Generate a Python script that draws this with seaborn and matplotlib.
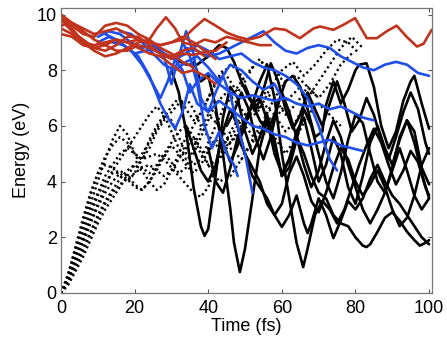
import matplotlib
matplotlib.use("Agg")
import matplotlib.pyplot as plt
import seaborn as sns

# ---------------- data ----------------
# red (upper state) trajectories: (times, energies)
red_t1 = [0, 3, 6, 9, 12, 15, 18, 21, 24, 27, 30, 33, 36, 39, 42, 45, 48, 51, 54, 58, 61, 64.9, 68.6, 70.4, 74, 76.7, 79.9, 83.1, 85.8, 88.5, 91.2, 93.9, 96.7, 98.5, 100.7]
red_e1 = [9.5, 9.3, 9.0, 8.9, 9.0, 9.1, 9.0, 9.1, 9.0, 8.9, 9.0, 9.1, 9.5, 9.84, 9.6, 9.35, 9.2, 9.1, 9.2, 9.5, 9.45, 9.15, 9.5, 9.57, 9.45, 9.63, 9.87, 9.15, 9.15, 9.4, 9.6, 9.2, 8.85, 8.95, 9.45]
red_t2 = [0, 3, 6, 9, 12, 15, 18, 21, 24, 26, 28.5, 31, 33, 36, 39, 42, 45, 48, 51, 54, 57]
red_e2 = [10.0, 9.6, 9.3, 9.2, 9.6, 9.7, 9.6, 9.3, 9.1, 9.5, 9.9, 9.5, 9.0, 8.9, 9.1, 9.0, 9.2, 9.1, 9.0, 8.9, 8.9]
red_t3 = [0, 3, 6, 9, 12, 15, 18, 21, 24, 27, 30, 33, 36, 39, 42]
red_e3 = [9.8, 9.4, 9.1, 8.8, 8.9, 9.1, 9.0, 8.8, 8.6, 8.5, 8.2, 7.9, 8.0, 7.8, 7.5]
red_t4 = [0, 3, 6, 9, 12, 15, 18, 21, 24, 27, 30, 33, 36, 39, 42, 45]
red_e4 = [9.3, 9.2, 8.9, 8.8, 8.7, 8.9, 9.2, 9.2, 8.9, 8.6, 8.4, 8.6, 8.55, 8.65, 8.7, 9.0]
red_t5 = [0, 3, 6, 9, 12, 15, 18, 21, 24, 27, 30, 33, 36, 39]
red_e5 = [10.0, 9.7, 9.4, 9.1, 8.9, 8.7, 8.7, 8.9, 8.8, 8.6, 8.5, 8.7, 8.8, 8.5]
red_t6 = [0, 3, 6, 9, 12, 15, 18, 21, 24, 27, 30, 33, 36, 39, 42]
red_e6 = [9.6, 9.7, 9.5, 9.3, 9.4, 9.5, 9.3, 9.1, 9.0, 8.9, 9.0, 9.2, 9.0, 8.7, 8.4]
red_t7 = [0, 3, 6, 9, 12, 15, 18, 21, 24, 27, 30, 33, 36]
red_e7 = [9.9, 9.5, 9.0, 8.7, 8.5, 8.6, 8.8, 9.0, 9.1, 8.8, 8.6, 8.3, 8.1]

# blue (middle state) trajectories
blue_t1 = [10, 13, 16, 19, 22, 25, 28, 31, 34, 37, 40, 43, 46, 49, 52, 55, 58, 61, 64, 67, 70, 73, 76, 79, 82, 85, 88, 91, 94, 97, 100]
blue_e1 = [9.2, 9.4, 9.3, 9.0, 8.8, 8.9, 8.6, 8.4, 8.8, 8.7, 8.5, 8.6, 8.8, 9.0, 9.2, 9.4, 9.0, 8.7, 8.6, 8.8, 8.9, 8.8, 8.5, 8.3, 8.1, 8.0, 8.2, 8.3, 8.2, 7.9, 7.8]
blue_t2 = [10, 13, 16, 19, 22, 25, 27, 29, 31, 33, 35, 37, 40, 43, 46, 49, 52, 55, 58, 61, 64, 67, 70, 73, 76, 79, 82, 85]
blue_e2 = [9.0, 9.2, 9.0, 8.7, 8.2, 7.5, 7.0, 7.6, 8.4, 8.0, 7.2, 7.6, 7.9, 7.5, 7.2, 7.0, 7.1, 7.0, 6.9, 7.0, 6.8, 6.7, 6.8, 6.6, 6.7, 6.5, 6.3, 6.2]
blue_t3 = [12, 15, 18, 21, 24, 27, 29, 31, 33, 35, 37, 40, 43, 46, 49, 52, 55, 58, 61, 64, 67, 70, 73, 76, 79, 82]
blue_e3 = [9.3, 9.1, 8.8, 8.5, 7.8, 6.8, 6.3, 5.9, 6.5, 7.5, 6.8, 6.5, 6.9, 6.6, 6.3, 6.0, 5.9, 5.7, 5.6, 5.4, 5.3, 5.4, 5.5, 5.3, 5.2, 5.1]
blue_t4 = [14, 17, 20, 23, 26, 28, 30, 32, 34, 36, 38, 40, 42, 44, 46, 48, 50, 52]
blue_e4 = [9.0, 8.9, 8.6, 8.7, 8.8, 8.5, 7.5, 8.5, 9.4, 8.6, 7.0, 6.5, 7.2, 7.8, 7.1, 6.0, 5.0, 3.6]
blue_t5 = [16, 19, 22, 25, 28, 31, 34, 37, 40, 43, 46, 49, 52, 55, 58, 60]
blue_e5 = [9.4, 9.3, 9.0, 8.6, 8.2, 8.0, 8.3, 8.5, 8.1, 7.6, 8.2, 8.0, 7.6, 7.3, 7.5, 7.0]
blue_t6 = [25, 28, 31, 34, 37, 40, 43, 46, 49, 52, 55, 58, 61, 64, 67, 70, 73, 75]
blue_e6 = [8.9, 8.6, 8.4, 8.6, 8.9, 8.7, 8.4, 8.5, 8.6, 8.3, 8.1, 8.0, 7.8, 7.5, 7.0, 6.0, 4.8, 4.4]
blue_t7 = [33, 35, 37, 39, 41, 43, 45, 47, 48]
blue_e7 = [9.0, 8.5, 7.5, 6.0, 5.2, 5.8, 5.0, 4.6, 4.2]

# black solid (lowest state after hop) trajectories
blk_t1 = [31, 34, 37, 40, 43, 45, 47, 49, 51, 53, 55, 57, 59, 61, 63, 65, 67, 69, 71, 73, 75, 77, 79, 81, 83, 85, 87, 89, 91, 93, 95, 97, 99, 100]
blk_e1 = [8.4, 8.2, 8.2, 8.5, 8.9, 8.8, 8.3, 7.6, 7.0, 6.6, 7.3, 8.25, 7.6, 6.6, 5.9, 6.4, 7.2, 6.6, 6.0, 6.8, 7.6, 6.8, 5.8, 6.2, 7.0, 6.4, 5.5, 4.8, 5.6, 6.5, 7.2, 6.6, 5.4, 5.0]
blk_t2 = [30, 32, 34, 36, 38, 39, 40, 42, 44, 46, 48, 50, 52, 54, 56, 58, 60, 62, 64, 66, 68, 70, 72, 74, 76, 78, 80, 82, 84, 86, 88, 90, 92, 94, 96, 98, 100]
blk_e2 = [8.0, 7.2, 5.8, 3.8, 2.4, 2.05, 2.3, 4.2, 6.3, 7.4, 7.0, 5.8, 5.0, 5.6, 6.4, 5.4, 4.2, 4.5, 5.5, 6.6, 6.0, 5.0, 4.0, 3.4, 4.3, 5.5, 6.4, 6.1, 5.0, 4.0, 3.6, 4.4, 5.2, 4.4, 3.5, 3.0, 3.4]
blk_t3 = [36, 38, 40, 42, 44, 46, 47, 48.6, 50, 52, 54, 56, 58, 60, 62, 64, 66, 68, 70, 72, 74, 76, 78, 80, 82, 84, 86, 88, 90, 92, 94, 96, 98, 100]
blk_e3 = [8.3, 7.6, 7.8, 6.7, 5.0, 3.0, 1.8, 0.75, 1.6, 3.4, 5.2, 6.2, 5.5, 4.2, 4.8, 5.8, 6.3, 5.2, 4.0, 4.6, 5.6, 5.0, 3.8, 3.2, 4.2, 5.4, 6.0, 5.2, 4.6, 5.5, 6.2, 5.8, 4.5, 3.9]
blk_t4 = [50, 52, 54, 56, 58, 60, 62, 64, 65.8, 67, 69, 71, 73, 75, 77, 79, 81, 83, 85, 87, 89, 91, 93, 95, 97, 99, 100]
blk_e4 = [7.45, 6.8, 7.6, 8.2, 7.0, 5.0, 3.4, 1.8, 0.93, 1.6, 2.8, 3.3, 3.0, 2.5, 3.0, 3.8, 4.6, 5.3, 5.9, 5.4, 4.6, 3.9, 4.4, 5.1, 4.7, 3.8, 3.5]
blk_t5 = [42, 44, 46, 48, 50, 52, 54, 56, 58, 60, 62, 64, 66, 68, 70, 72, 74, 76, 78, 80, 82, 83, 84, 86, 88, 90, 92, 94, 96, 97.5, 99, 100]
blk_e5 = [6.5, 5.4, 4.7, 5.3, 6.0, 6.8, 7.0, 6.2, 5.0, 4.3, 4.8, 5.6, 5.0, 4.2, 3.6, 3.4, 2.8, 2.5, 2.4, 2.0, 1.7, 1.65, 1.75, 2.2, 2.7, 2.9, 2.6, 2.2, 1.9, 1.7, 1.8, 1.9]
blk_t6 = [40, 42, 44, 46, 48, 50, 52, 54, 56, 58, 60, 62, 64, 66, 67, 68, 70, 72, 74, 76, 78, 80, 82, 84, 86, 88, 90, 92, 94, 96, 98, 100]
blk_e6 = [5.2, 4.0, 3.6, 4.5, 5.6, 5.0, 4.2, 3.8, 3.4, 2.8, 2.37, 2.8, 3.5, 2.5, 2.15, 2.5, 3.4, 2.8, 1.97, 2.6, 3.3, 3.0, 3.4, 4.1, 4.6, 4.0, 3.5, 3.2, 2.8, 2.4, 2.0, 1.75]
blk_t7 = [45, 47, 49, 51, 53, 55, 57, 59, 61, 63, 65, 67, 69, 71, 72, 74, 76, 78, 80, 81, 83, 85, 87, 89, 91, 93, 95, 96, 98, 100]
blk_e7 = [6.0, 6.5, 7.2, 6.6, 5.5, 4.8, 5.6, 6.8, 7.6, 7.8, 7.4, 6.6, 5.6, 5.8, 6.75, 7.6, 6.8, 7.3, 8.0, 8.2, 8.25, 7.4, 6.0, 5.2, 5.8, 6.9, 7.6, 7.8, 6.8, 5.9]
blk_t8 = [34, 36, 38, 40, 42, 44, 46, 48, 50, 52, 54, 56, 58, 60, 62, 64, 66, 68, 70, 72, 74, 76, 78, 80, 82, 84, 86, 88, 90, 92, 94, 96, 98, 100]
blk_e8 = [6.0, 5.2, 4.4, 4.0, 4.6, 5.8, 6.6, 6.0, 5.0, 4.5, 4.0, 3.2, 2.8, 3.2, 4.3, 4.9, 4.2, 3.3, 2.9, 3.6, 4.5, 5.2, 4.8, 4.0, 3.5, 3.9, 4.4, 3.8, 3.0, 2.4, 2.7, 3.5, 4.6, 5.2]
blk_t9 = [48, 50, 52, 54, 56, 58, 60, 62, 64, 66, 68, 70, 72, 74, 76, 78, 80, 82, 84, 86, 88, 90, 92, 94, 96, 98, 100]
blk_e9 = [5.6, 6.2, 6.8, 6.2, 5.8, 6.4, 7.2, 6.5, 5.6, 4.6, 3.8, 4.4, 5.4, 6.2, 5.6, 4.6, 3.8, 3.0, 2.5, 3.0, 3.6, 4.5, 5.6, 6.2, 5.4, 4.3, 3.4]

# black dotted (ground-state) trajectories
dot_t1 = [0, 2, 4, 6, 8, 10, 12, 14, 16, 18, 20, 22, 24, 26, 28, 30, 32, 34, 36, 38, 40, 43, 46, 49, 52, 55, 58, 61, 64, 67, 70]
dot_e1 = [0, 0.7, 1.6, 2.4, 3.2, 4.0, 4.8, 5.5, 6.0, 5.7, 5.0, 4.5, 4.3, 4.6, 5.0, 4.7, 4.3, 4.5, 5.2, 5.9, 6.4, 6.0, 5.4, 5.8, 6.6, 7.2, 7.0, 6.4, 6.8, 7.4, 7.0]
dot_t2 = [0, 2, 4, 6, 8, 10, 12, 14, 16, 18, 20, 22, 24, 26, 28, 30, 32, 34, 36, 38, 40, 42, 45, 48, 51, 54, 57, 60, 63, 66, 69, 72, 75, 78, 81]
dot_e2 = [0, 0.5, 1.2, 1.9, 2.6, 3.2, 3.8, 4.4, 4.8, 5.2, 5.6, 6.0, 6.4, 6.7, 6.4, 5.8, 5.2, 4.8, 5.0, 5.6, 6.2, 6.8, 7.2, 6.8, 6.2, 6.6, 7.4, 8.0, 8.3, 7.8, 8.2, 8.7, 9.1, 9.0, 8.6]
dot_t3 = [0, 2, 4, 6, 8, 10, 12, 14, 16, 18, 20, 22, 24, 26, 28, 30, 32, 34, 36, 38, 40, 42, 44, 46, 48, 50]
dot_e3 = [0, 0.4, 1.0, 1.6, 2.2, 2.8, 3.3, 3.7, 4.1, 4.4, 4.6, 4.4, 4.0, 3.7, 3.9, 4.4, 5.0, 5.6, 6.0, 6.5, 7.0, 7.5, 7.9, 8.2, 8.0, 7.6]
dot_t4 = [0, 2, 4, 6, 8, 10, 12, 14, 16, 18, 20, 22, 24, 26, 28, 30, 32, 34, 36, 38, 40, 42, 44, 46, 48, 50, 53, 56, 59, 62, 65]
dot_e4 = [0, 0.6, 1.4, 2.2, 3.0, 3.6, 4.2, 4.6, 5.0, 5.2, 5.0, 4.8, 4.9, 5.0, 4.8, 4.5, 4.2, 3.9, 3.6, 3.45, 3.8, 4.5, 5.2, 5.8, 6.2, 6.0, 5.5, 5.8, 6.4, 7.0, 7.4]
dot_t5 = [0, 2, 4, 6, 8, 10, 12, 14, 16, 18, 20, 22, 24, 26, 28, 30, 32, 34, 36, 38, 40, 43, 46, 49, 52, 55, 58, 61, 64, 67, 70, 73, 76, 79, 82]
dot_e5 = [0, 0.5, 1.3, 2.0, 2.8, 3.5, 4.0, 4.3, 4.4, 4.2, 3.9, 3.7, 4.0, 4.5, 5.0, 5.4, 5.8, 6.0, 5.6, 5.0, 4.6, 4.8, 5.4, 6.0, 6.5, 6.8, 6.4, 5.8, 6.2, 7.0, 7.6, 8.2, 8.8, 9.2, 8.8]
dot_t6 = [0, 2, 4, 6, 8, 10, 12, 14, 16, 18, 20, 22, 24, 26, 28, 30, 32, 34, 36, 38, 40, 43, 46, 49, 52, 55, 58]
dot_e6 = [0, 0.6, 1.5, 2.5, 3.5, 4.3, 4.9, 5.3, 5.6, 5.4, 5.0, 4.8, 5.2, 5.8, 6.2, 6.5, 6.8, 7.0, 6.6, 6.0, 5.6, 5.2, 5.6, 6.2, 6.8, 6.6, 6.0]
dot_t7 = [0, 2, 4, 6, 8, 10, 12, 14, 16, 18, 20, 22, 24, 26, 28, 30, 32, 34, 36, 38, 40, 43, 46, 49, 52, 55, 58, 61, 64, 67, 70, 73, 76, 79]
dot_e7 = [0, 0.4, 0.9, 1.5, 2.1, 2.7, 3.2, 3.6, 3.9, 4.1, 4.3, 4.5, 4.6, 4.4, 4.2, 4.4, 4.8, 5.2, 5.6, 5.2, 4.6, 4.0, 4.2, 4.8, 5.5, 6.2, 7.0, 7.6, 7.8, 7.4, 7.0, 7.5, 8.2, 8.6]
dot_t8 = [0, 2, 4, 6, 8, 10, 12, 14, 16, 18, 20, 22, 24, 26, 28, 30, 32, 34, 36, 38, 40, 42, 44, 46, 48, 50, 52, 55, 58, 61]
dot_e8 = [0, 0.7, 1.7, 2.7, 3.6, 4.3, 4.6, 4.5, 4.2, 4.0, 4.3, 4.8, 5.5, 6.0, 6.4, 6.2, 5.6, 5.0, 4.6, 4.8, 5.4, 6.0, 6.6, 7.0, 7.4, 7.8, 8.1, 8.3, 8.0, 7.5]
dot_t9 = [0, 2, 4, 6, 8, 10, 12, 14, 16, 18, 20, 22, 24, 26, 28, 30, 32, 34, 36, 38, 40, 43, 46, 49, 52, 55, 58, 61, 64, 67, 70, 73, 76]
dot_e9 = [0, 0.5, 1.1, 1.8, 2.5, 3.1, 3.6, 4.0, 4.3, 4.1, 3.8, 3.7, 4.0, 4.4, 4.9, 5.3, 5.0, 4.6, 4.3, 4.6, 5.1, 5.6, 5.2, 4.8, 5.4, 6.0, 5.6, 5.0, 5.6, 6.4, 6.8, 6.4, 6.0]
dot_t10 = [0, 2, 4, 6, 8, 10, 12, 14, 16, 18, 20, 22, 24, 26, 28, 30, 32, 34, 36, 38, 40, 42, 44, 46, 48, 50, 52, 54, 56]
dot_e10 = [0, 0.3, 0.8, 1.3, 1.9, 2.5, 3.0, 3.4, 3.8, 4.2, 4.6, 5.0, 5.4, 5.9, 6.3, 6.7, 7.0, 6.6, 6.2, 6.4, 7.0, 7.6, 8.0, 7.6, 7.2, 7.6, 8.1, 8.4, 8.0]

x_ticks = [0, 20, 40, 60, 80, 100]
y_ticks = [0, 2, 4, 6, 8, 10]
x_label = "Time (fs)"
y_label = "Energy (eV)"

# ---------------- drawing ----------------
sns.set_theme(style="white")
plt.rcParams["font.family"] = ["Liberation Sans", "DejaVu Sans"]
plt.rcParams["text.color"] = "black"
plt.rcParams["axes.labelcolor"] = "black"
plt.rcParams["xtick.color"] = "black"
plt.rcParams["ytick.color"] = "black"

fig = plt.figure(figsize=(4.47, 3.41), dpi=100)
ax = fig.add_axes([0.1365, 0.1408, 0.830, 0.837])

RED = "#C0331C"
BLUE = "#1F4FE8"
BLACK = "#000000"

dotted = [(dot_t1, dot_e1), (dot_t2, dot_e2), (dot_t3, dot_e3), (dot_t4, dot_e4), (dot_t5, dot_e5),
          (dot_t6, dot_e6), (dot_t7, dot_e7), (dot_t8, dot_e8), (dot_t9, dot_e9), (dot_t10, dot_e10)]
black = [(blk_t1, blk_e1), (blk_t2, blk_e2), (blk_t3, blk_e3), (blk_t4, blk_e4), (blk_t5, blk_e5),
         (blk_t6, blk_e6), (blk_t7, blk_e7), (blk_t8, blk_e8), (blk_t9, blk_e9)]
blue = [(blue_t1, blue_e1), (blue_t2, blue_e2), (blue_t3, blue_e3), (blue_t4, blue_e4),
        (blue_t5, blue_e5), (blue_t6, blue_e6), (blue_t7, blue_e7)]
red = [(red_t1, red_e1), (red_t2, red_e2), (red_t3, red_e3), (red_t4, red_e4),
       (red_t5, red_e5), (red_t6, red_e6), (red_t7, red_e7)]

for t, e in dotted:
    sns.lineplot(x=t, y=e, ax=ax, color=BLACK, lw=1.7, linestyle=(0, (0.9, 1.3)),
                 estimator=None, sort=False)
for t, e in black:
    sns.lineplot(x=t, y=e, ax=ax, color=BLACK, lw=1.9, estimator=None, sort=False)
for t, e in blue:
    sns.lineplot(x=t, y=e, ax=ax, color=BLUE, lw=1.9, estimator=None, sort=False)
for t, e in red:
    sns.lineplot(x=t, y=e, ax=ax, color=RED, lw=1.9, estimator=None, sort=False)

ax.set_xlim(0, 100.8)
ax.set_ylim(0, 10.25)
ax.set_xticks(x_ticks)
ax.set_yticks(y_ticks)
ax.set_xticklabels([str(v) for v in x_ticks])
ax.set_yticklabels([str(v) for v in y_ticks])
ax.tick_params(direction="in", length=3, width=0.8, color="#555555", labelcolor="black",
               top=True, right=True, bottom=True, left=True, labelsize=13, pad=3)
ax.tick_params(axis="x", pad=5)
for s in ax.spines.values():
    s.set_visible(True)
    s.set_color("#777777")
    s.set_linewidth(0.9)
ax.set_xlabel(x_label, fontsize=13, labelpad=1, color="black")
ax.set_ylabel(y_label, fontsize=13, labelpad=5, color="black")

fig.savefig("out.png", dpi=100)
